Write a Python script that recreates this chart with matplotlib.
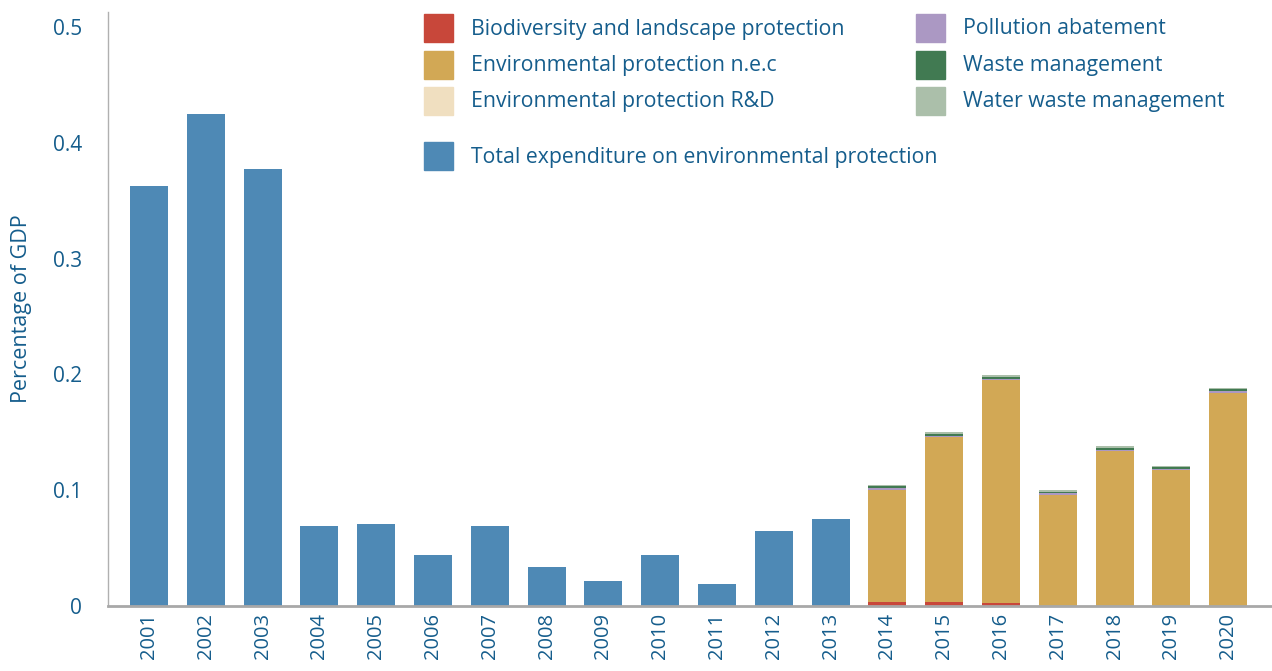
import numpy as np
import matplotlib.pyplot as plt
from matplotlib.patches import Rectangle

years = [str(y) for y in range(2001, 2021)]

# percentage of GDP
total = [0.363, 0.425, 0.377, 0.069, 0.071, 0.044, 0.069, 0.034, 0.022, 0.044,
         0.019, 0.065, 0.075, 0, 0, 0, 0, 0, 0, 0]
biodiversity = [0]*13 + [0.0035, 0.0035, 0.0026, 0, 0, 0, 0]
env_nec = [0]*13 + [0.0965, 0.1425, 0.1928, 0.0959, 0.1339, 0.1177, 0.1839]
env_rd = [0]*13 + [0, 0, 0, 0, 0, 0, 0]
pollution = [0]*13 + [0.0015, 0.0012, 0.0009, 0.0017, 0.0012, 0.0006, 0.0017]
waste = [0]*13 + [0.0020, 0.0015, 0.0014, 0.0009, 0.0014, 0.0017, 0.0014]
water_waste = [0]*13 + [0.0010, 0.0017, 0.0017, 0.0017, 0.0017, 0.0009, 0.0012]

series = [
    ("Biodiversity and landscape protection", biodiversity, "#c8473a"),
    ("Environmental protection n.e.c", env_nec, "#d2a855"),
    ("Environmental protection R&D", env_rd, "#f0dfc0"),
    ("Pollution abatement", pollution, "#ab98c3"),
    ("Waste management", waste, "#417a52"),
    ("Water waste management", water_waste, "#abbfaa"),
]
total_color = "#4e89b5"
text_color = "#155d8c"

plt.rcParams['font.family'] = ['Open Sans', 'DejaVu Sans']

fig = plt.figure(figsize=(12.72, 6.71), dpi=100)
ax = fig.add_axes([108/1272, 1-606/671, 1-108/1272, (606-12)/671])

x = np.arange(len(years))
w = 0.67
ax.bar(x, total, w, color=total_color, zorder=2)
bottom = np.zeros(len(years))
for name, vals, col in series:
    vals = np.array(vals)
    ax.bar(x, vals, w, bottom=bottom, color=col, zorder=2)
    bottom += vals

ax.set_xlim(-0.723, 19.77)
ax.set_ylim(0, 0.513)
ax.set_xticks(x)
ax.set_xticklabels(years, rotation=90, fontsize=14.5, color=text_color)
ax.set_yticks([0, 0.1, 0.2, 0.3, 0.4, 0.5])
ax.set_yticklabels(["0", "0.1", "0.2", "0.3", "0.4", "0.5"], fontsize=15, color=text_color)
ax.tick_params(axis='both', length=0)
ax.tick_params(axis='y', pad=18.5)
ax.tick_params(axis='x', pad=5)
ax.set_ylabel("Percentage of GDP", fontsize=15.5, color=text_color, labelpad=15)
for s in ['top', 'right']:
    ax.spines[s].set_visible(False)
ax.spines['left'].set_color('#b0b0b0')
ax.spines['left'].set_linewidth(1)
ax.spines['bottom'].set_color('#a8a8a8')
ax.spines['bottom'].set_linewidth(2)

# legend drawn by hand
def legend_item(px, py, label, col):
    fig.add_artist(Rectangle((px/1272, 1-(py+14)/671), 29/1272, 28/671,
                             transform=fig.transFigure, color=col))
    fig.text((px+47)/1272, 1-(py+1)/671, label, fontsize=15.3, color=text_color,
             va='center', ha='left')

rows = [28, 65, 101]
for i, (name, vals, col) in enumerate(series):
    px = 424 if i < 3 else 916
    legend_item(px, rows[i % 3], name, col)
legend_item(424, 156, "Total expenditure on environmental protection", total_color)

fig.savefig("out.png", dpi=100)
